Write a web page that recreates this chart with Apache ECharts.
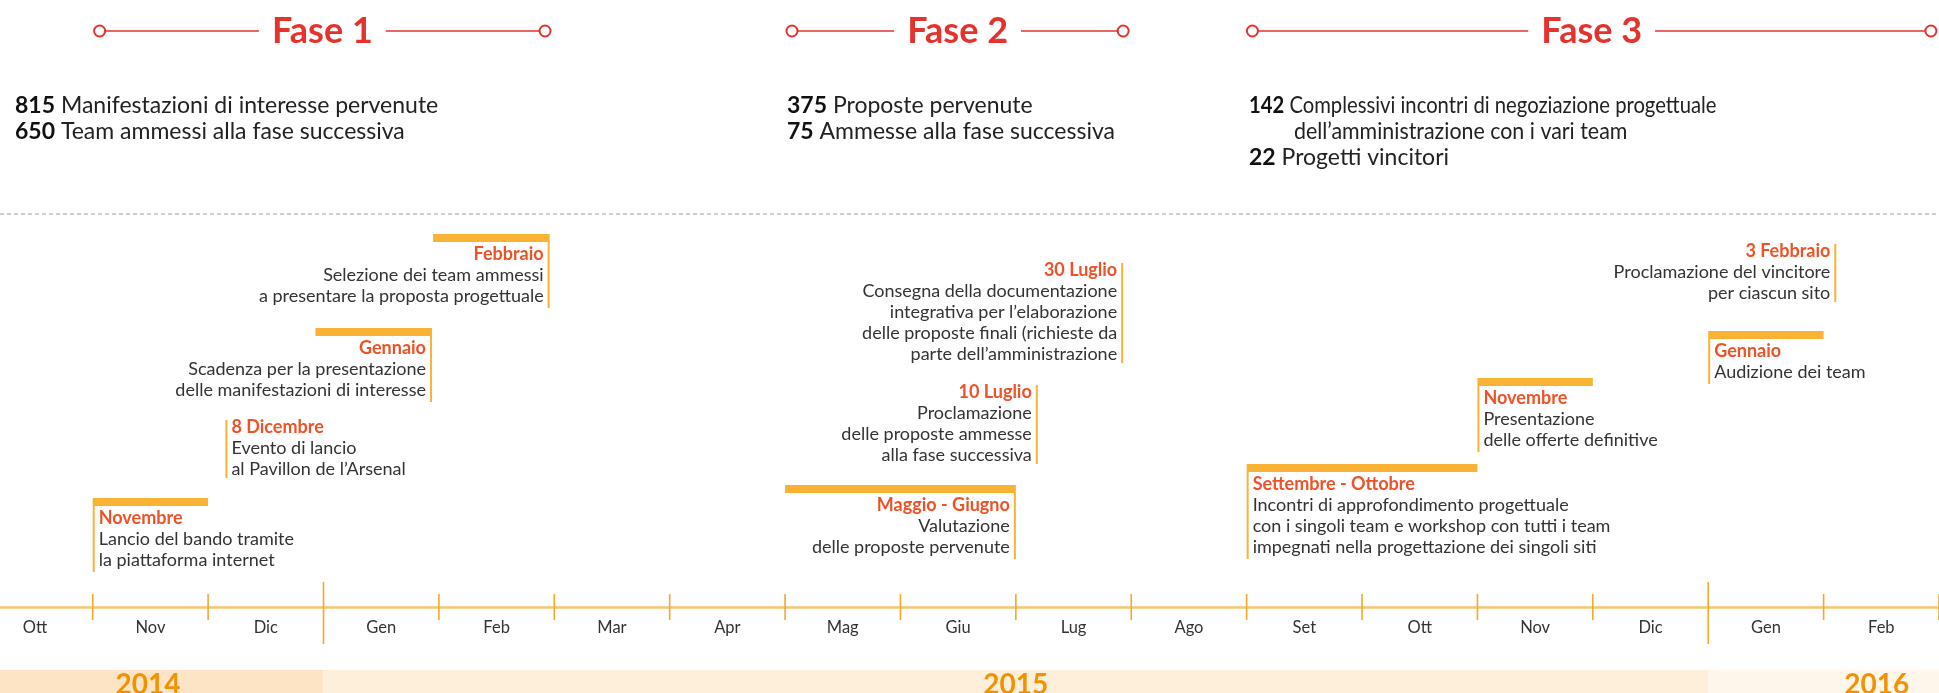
<!DOCTYPE html>
<html>
<head>
<meta charset="utf-8">
<script src="https://cdn.jsdelivr.net/npm/echarts@6/dist/echarts.min.js"></script>
<style>
  html, body { margin: 0; padding: 0; background: #fff; }
  #chart { width: 1939px; height: 693px; }
</style>
</head>
<body>
<div id="chart"></div>
<script>
// months shown on the timeline, Ott 2014 = 0
const monthLabels = ['Ott', 'Nov', 'Dic', 'Gen', 'Feb', 'Mar', 'Apr', 'Mag', 'Giu', 'Lug', 'Ago', 'Set', 'Ott', 'Nov', 'Dic', 'Gen', 'Feb'];
const monthTicks = [1, 2, 3, 4, 5, 6, 7, 8, 9, 10, 11, 12, 13, 14, 15, 16, 17];
const yearTicks = [3, 15];

const yearLabels = ['2014', '2015', '2016'];
const yearStart = [0, 3, 15];
const yearEnd = [3, 15, 17];
const yearLabelAt = [1.48, 9, 16.46];

const phaseNames = ['Fase 1', 'Fase 2', 'Fase 3'];
const phaseStart = [1.06, 7.06, 11.05];
const phaseEnd = [4.92, 9.93, 16.93];

const statNumbers = [[815, 650], [375, 75], [142, 22]];
const statTexts = [
  ['Manifestazioni di interesse pervenute', 'Team ammessi alla fase successiva'],
  ['Proposte pervenute', 'Ammesse alla fase successiva'],
  ['Complessivi incontri di negoziazione progettuale\ndell’amministrazione con i vari team', 'Progetti vincitori']
];

const eventTitles = ['Novembre', '8 Dicembre', 'Gennaio', 'Febbraio', 'Maggio - Giugno', '10 Luglio',
  '30 Luglio', 'Settembre - Ottobre', 'Novembre', 'Gennaio', '3 Febbraio'];
const eventTexts = [
  ['Lancio del bando tramite', 'la piattaforma internet'],
  ['Evento di lancio', 'al Pavillon de l’Arsenal'],
  ['Scadenza per la presentazione', 'delle manifestazioni di interesse'],
  ['Selezione dei team ammessi', 'a presentare la proposta progettuale'],
  ['Valutazione', 'delle proposte pervenute'],
  ['Proclamazione', 'delle proposte ammesse', 'alla fase successiva'],
  ['Consegna della documentazione', 'integrativa per l’elaborazione', 'delle proposte finali (richieste da', 'parte dell’amministrazione'],
  ['Incontri di approfondimento progettuale', 'con i singoli team e workshop con tutti i team', 'impegnati nella progettazione dei singoli siti'],
  ['Presentazione', 'delle offerte definitive'],
  ['Audizione dei team'],
  ['Proclamazione del vincitore', 'per ciascun sito']
];
const eventStart = [1, 2.15, 2.93, 3.95, 7, 9.19, 9.93, 11, 13, 15, 16.11];
const eventEnd = [2, 2.15, 3.94, 4.96, 9, 9.19, 9.93, 13, 14, 16, 16.11];
// height of each card above the timeline
const eventLevel = [109, 187, 279, 373, 122, 222, 344, 143, 229, 276, 363];
const eventSide = ['left', 'left', 'right', 'right', 'right', 'right', 'right', 'left', 'left', 'left', 'right'];

const FONT = 'Lato, "Noto Sans", sans-serif';
const RED = '#e5322d';
const TITLE = '#ee5226';
const BAR = '#f9b233';
const TEXT = '#333333';
const Y_MAX = 607;
const X_MIN = 0.1966;
const X_MAX = 17;
const bandColors = ['#fde4c4', '#fdefda', '#fef6eb'];

const chart = echarts.init(document.getElementById('chart'));

function renderBand(params, api) {
  const i = api.value(2);
  const a = api.coord([Math.max(api.value(0), X_MIN), 0]);
  const b = api.coord([api.value(1), 0]);
  const c = api.coord([yearLabelAt[i], 0]);
  return {
    type: 'group',
    children: [
      { type: 'rect', shape: { x: a[0], y: a[1] + 63, width: b[0] - a[0], height: 30 }, style: { fill: bandColors[i] } },
      { type: 'text', x: c[0], y: a[1] + 78, style: {
        text: yearLabels[i], align: 'center', verticalAlign: 'middle',
        fontSize: 28, fontWeight: 'bold', fontFamily: FONT, fill: '#f39200' } }
    ]
  };
}

function renderTick(params, api) {
  const m = api.value(0);
  const p = api.coord([m, 0]);
  const c = api.coord([m - 0.5, 0]);
  const long = api.value(1) === 1;
  return {
    type: 'group',
    children: [
      { type: 'line',
        shape: { x1: p[0], y1: p[1] - (long ? 25 : 13), x2: p[0], y2: p[1] + (long ? 37 : 13) },
        style: { stroke: '#f6a72c', lineWidth: 1.6 } },
      { type: 'text', x: c[0], y: p[1] + 21, style: {
        text: monthLabels[m - 1], align: 'center', verticalAlign: 'middle',
        fontSize: 16.5, fontFamily: FONT, fill: '#333' } }
    ]
  };
}

function renderPhase(params, api) {
  const i = api.value(2);
  const a = api.coord([api.value(0), Y_MAX]);
  const b = api.coord([api.value(1), Y_MAX]);
  const y = a[1] + 31;
  const circle = (x) => ({ type: 'circle', shape: { cx: x, cy: y, r: 5.5 }, style: { fill: '#fff', stroke: RED, lineWidth: 2 } });
  return {
    type: 'group',
    children: [
      { type: 'line', shape: { x1: a[0], y1: y, x2: b[0], y2: y }, style: { stroke: RED, lineWidth: 1.6 } },
      circle(a[0]),
      circle(b[0]),
      { type: 'text', x: (a[0] + b[0]) / 2, y: y, style: {
        text: phaseNames[i], align: 'center', verticalAlign: 'middle',
        fontSize: 36, fontWeight: 'bold', fontFamily: FONT, fill: RED,
        backgroundColor: '#fff', padding: [0, 13] } }
    ]
  };
}

function renderEvent(params, api) {
  const i = api.value(3);
  const s = api.coord([api.value(0), api.value(2)]);
  const e = api.coord([api.value(1), api.value(2)]);
  const hasBar = e[0] - s[0] > 1;
  const right = eventSide[i] === 'right';
  const rows = 1 + eventTexts[i].length;
  const top = s[1];
  const lineX = right ? e[0] - 1 : s[0] + 1;
  const lineTop = hasBar ? top + 8 : top;
  const lineBottom = hasBar ? top + 8 + rows * 21 + 3 : top + rows * 21 - 5;
  const textTop = hasBar ? top + 10 : top - 3;
  const children = [];
  if (hasBar) {
    children.push({ type: 'rect', shape: { x: s[0], y: top, width: e[0] - s[0], height: 8 }, style: { fill: BAR } });
  }
  children.push({ type: 'line', shape: { x1: lineX, y1: lineTop, x2: lineX, y2: lineBottom }, style: { stroke: BAR, lineWidth: 2 } });
  children.push({
    type: 'text',
    x: right ? lineX - 5 : lineX + 5,
    y: textTop,
    style: {
      text: '{t|' + eventTitles[i] + '}\n' + eventTexts[i].join('\n'),
      align: right ? 'right' : 'left',
      verticalAlign: 'top',
      fill: TEXT, fontSize: 18, fontFamily: FONT, lineHeight: 21,
      rich: { t: { fill: TITLE, fontWeight: 'bold', fontSize: 18, fontFamily: FONT, lineHeight: 21 } }
    }
  });
  return { type: 'group', children: children };
}

// stats under each phase title
const statX = [15, 787, 1249];
// the long lines of the third column are set tighter in the original
const statSqueeze = { '2-0': 0.88, '2-1': 0.93 };
const statGraphics = [];
statTexts.forEach((list, p) => {
  let row = 0;
  list.forEach((txt, k) => {
    txt.split('\n').forEach((part, j) => {
      statGraphics.push({
        type: 'text',
        x: statX[p] + (j ? 45 : 0),
        y: 106 + row * 26,
        scaleX: statSqueeze[p + '-' + row] || 1,
        style: {
          text: j ? part : '{n|' + statNumbers[p][k] + '} ' + part,
          verticalAlign: 'middle',
          fontSize: 23, fontFamily: FONT, fill: '#222',
          rich: { n: { fontWeight: 'bold', fontSize: 23, fontFamily: FONT, fill: '#111' } }
        }
      });
      row++;
    });
  });
});

const option = {
  animation: false,
  grid: { left: 0, right: 0, top: 0, bottom: 86 },
  xAxis: {
    type: 'value', min: X_MIN, max: X_MAX, position: 'bottom',
    axisLine: { show: true, onZero: false, lineStyle: { color: '#f9c470', width: 2.5 } },
    axisTick: { show: false }, axisLabel: { show: false }, splitLine: { show: false }
  },
  yAxis: { type: 'value', min: 0, max: Y_MAX, show: false },
  graphic: [
    { type: 'line', shape: { x1: 0, y1: 214, x2: 1939, y2: 214 }, style: { stroke: '#a0a0a0', lineWidth: 1, lineDash: [4, 3] } }
  ].concat(statGraphics),
  series: [
    {
      type: 'custom', renderItem: renderBand, silent: true,
      data: yearLabels.map((y, i) => [yearStart[i], yearEnd[i], i])
    },
    {
      type: 'custom', renderItem: renderTick, silent: true,
      data: monthTicks.map(m => [m, yearTicks.indexOf(m) >= 0 ? 1 : 0])
    },
    {
      type: 'custom', renderItem: renderPhase, silent: true,
      data: phaseNames.map((n, i) => [phaseStart[i], phaseEnd[i], i])
    },
    {
      type: 'custom', renderItem: renderEvent, silent: true,
      data: eventTitles.map((t, i) => [eventStart[i], eventEnd[i], eventLevel[i], i])
    }
  ]
};

chart.setOption(option);
</script>
</body>
</html>
